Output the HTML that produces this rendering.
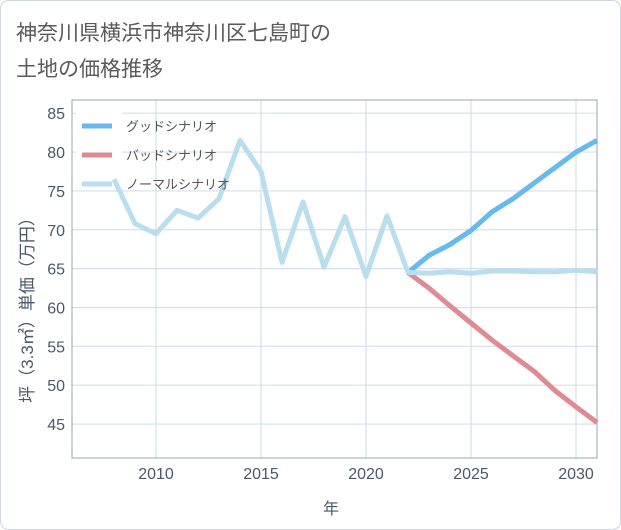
<!DOCTYPE html>
<html><head><meta charset="utf-8"><style>
html,body{margin:0;padding:0;background:#fff;}
svg{display:block;font-family:"Liberation Sans","Noto Sans CJK JP",sans-serif;}
</style></head><body>
<svg width="621" height="530">
<rect x="0.5" y="0.5" width="620" height="529" rx="8" fill="#fff" stroke="#cfd6dd"/>
<text x="16" y="40" font-size="21" fill="#5a5a5a">神奈川県横浜市神奈川区七島町の</text>
<text x="16" y="76" font-size="21" fill="#5a5a5a">土地の価格推移</text>
<g id="grid"></g>
<g id="axes"></g>
<rect x="76" y="104" width="46" height="78" fill="#fff"/>
<g id="series"></g>
<g id="legend"></g>
<text x="331" y="514" font-size="16" fill="#4a5868" text-anchor="middle">年</text>
<text transform="translate(33,306) rotate(-90)" font-size="17" fill="#4a5868" text-anchor="middle">坪（3.3㎡）単価（万円）</text>
</svg>
<script>
const histYears=[2008,2009,2010,2011,2012,2013,2014,2015,2016,2017,2018,2019,2020,2021,2022];
const histValues=[76.5,70.8,69.5,72.5,71.5,74,81.5,77.5,65.8,73.6,65.2,71.7,64,71.8,64.5];
const futYears=[2022,2023,2024,2025,2026,2027,2028,2029,2030,2031];
const goodValues=[64.5,66.7,68.1,69.9,72.3,74,76,78,80,81.5];
const badValues=[64.5,62.5,60.2,58,55.8,53.8,51.8,49.3,47.2,45.2];
const normalValues=[64.5,64.4,64.6,64.4,64.7,64.7,64.6,64.6,64.8,64.6];
const xTicks=[2010,2015,2020,2025,2030];
const yTicks=[45,50,55,60,65,70,75,80,85];
const legendLabels=["グッドシナリオ","バッドシナリオ","ノーマルシナリオ"];
const legendColors=["#68b9ee","#e08a93","#b9dfee"];

const L=72,R=597,T=100,B=458;
const X0=2006,X1=2031,Y0=40.63,Y1=86.7;
const xs=v=>L+(v-X0)/(X1-X0)*(R-L);
const ys=v=>B-(v-Y0)/(Y1-Y0)*(B-T);
const NS="http://www.w3.org/2000/svg";
function mk(tag,attrs,parent){const e=document.createElementNS(NS,tag);for(const k in attrs)e.setAttribute(k,attrs[k]);parent.appendChild(e);return e;}
const grid=document.getElementById('grid'),axes=document.getElementById('axes'),series=document.getElementById('series'),legend=document.getElementById('legend');
xTicks.forEach(t=>{
 const l=mk('line',{x1:xs(t),x2:xs(t),y1:T,y2:B,stroke:'#d3e0ec','stroke-width':1.2},grid);
 
 
 const tx=mk('text',{x:xs(t),y:B+21,'font-size':16,fill:'#4a5868','text-anchor':'middle'},axes);
 tx.textContent=t;
 
 
});
yTicks.forEach(t=>{
 const l=mk('line',{x1:L,x2:R,y1:ys(t),y2:ys(t),stroke:'#d3e0ec','stroke-width':1.2},grid);
 
 
 const tx=mk('text',{x:L-7,y:ys(t)+6,'font-size':16,fill:'#4a5868','text-anchor':'end'},axes);
 tx.textContent=t;
 
 
});
const fr=mk('rect',{x:L,y:T,width:R-L,height:B-T,fill:'none',stroke:'#9aa5b0','stroke-width':1},axes);


function line(xv,yv,color,name){
 const d=xv.map((x,i)=>(i?'L':'M')+xs(x).toFixed(1)+','+ys(yv[i]).toFixed(1)).join('');
 const p=mk('path',{d:d,fill:'none',stroke:color,'stroke-width':5,'stroke-linejoin':'round'},series);
 
 
}
line(futYears,badValues,legendColors[1],'bad-scenario-line');
line(futYears,goodValues,legendColors[0],'good-scenario-line');
line(futYears,normalValues,legendColors[2],'normal-scenario-line');
line(histYears,histValues,legendColors[2],'historical-line');
legendLabels.forEach((lab,i)=>{
 const y=126+i*29;
 const s=mk('line',{x1:82,x2:112,y1:y,y2:y,stroke:legendColors[i],'stroke-width':5},legend);
 
 
 const t=mk('text',{x:126,y:y+5,'font-size':13,fill:'#555'},legend);
 t.textContent=lab;
 
 
});
</script>
</body></html>
